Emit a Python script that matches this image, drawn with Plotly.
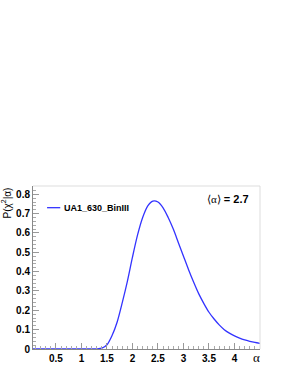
import plotly.graph_objects as go

alpha = [0.05, 0.2, 0.4, 0.6, 0.8, 1.0, 1.2, 1.3, 1.4, 1.5, 1.6, 1.7, 1.8, 1.9, 2.0,
         2.1, 2.2, 2.3, 2.4, 2.5, 2.6, 2.7, 2.8, 2.9, 3.0, 3.1, 3.2, 3.3, 3.4,
         3.5, 3.6, 3.7, 3.8, 3.9, 4.0, 4.1, 4.2, 4.3, 4.4, 4.5]
prob = [0.0, 0.0, 0.0, 0.0, 0.0, 0.0, 0.0, 0.0005, 0.004, 0.022, 0.07, 0.14, 0.24, 0.35, 0.475,
        0.59, 0.68, 0.74, 0.765, 0.76, 0.73, 0.68, 0.62, 0.55, 0.48, 0.41, 0.345, 0.285, 0.235,
        0.19, 0.155, 0.125, 0.10, 0.082, 0.068, 0.056, 0.047, 0.040, 0.034, 0.029]
series_name = "UA1_630_BinIII"
mean_alpha = 2.7
xticks = [0.5, 1, 1.5, 2, 2.5, 3, 3.5, 4]
xticklabels = ["0.5", "1", "1.5", "2", "2.5", "3", "3.5", "4"]
yticks = [0, 0.1, 0.2, 0.3, 0.4, 0.5, 0.6, 0.7, 0.8]
yticklabels = ["0", "0.1", "0.2", "0.3", "0.4", "0.5", "0.6", "0.7", "0.8"]

fig = go.Figure()
fig.add_trace(go.Scatter(x=alpha, y=prob, mode="lines", name=series_name,
                         line=dict(color="#3333ff", width=1.3, shape="spline", smoothing=0.8),
                         showlegend=False))

tickfont = dict(family="Liberation Sans, Arial, sans-serif", size=10, color="black", weight="bold")
axis_common = dict(showgrid=False, zeroline=False, ticks="inside", ticklen=6,
                   tickcolor="#999999", showline=True, linecolor="#888888", linewidth=1,
                   mirror=False, tickfont=tickfont)

fig.update_xaxes(range=[0.05, 4.5], tickmode="array", tickvals=xticks, ticktext=xticklabels,
                 minor=dict(dtick=0.1, ticklen=3, ticks="inside", tickcolor="#aaaaaa"),
                 **axis_common)
fig.update_yaxes(range=[0, 0.843], tickmode="array", tickvals=yticks, ticktext=yticklabels,
                 minor=dict(dtick=0.02, ticklen=3, ticks="inside", tickcolor="#aaaaaa"),
                 **axis_common)

# frame top and right
fig.add_shape(type="line", xref="paper", yref="paper", x0=0, x1=1, y0=1, y1=1,
              line=dict(color="#dddddd", width=1))
fig.add_shape(type="line", xref="paper", yref="paper", x0=1, x1=1, y0=0, y1=1,
              line=dict(color="#dddddd", width=1))

# legend
fig.add_shape(type="line", xref="paper", yref="paper", x0=0.062, x1=0.12, y0=0.867, y1=0.867,
              line=dict(color="#3333ff", width=1.3))
fig.add_annotation(xref="paper", yref="paper", x=0.128, y=0.867, xanchor="left", yanchor="middle",
                   text="<b>" + series_name + "</b>", showarrow=False,
                   font=dict(family="Liberation Sans, Arial, sans-serif", size=9, color="black"))

fig.add_annotation(xref="paper", yref="paper", x=0.96, y=0.92, xanchor="right", yanchor="middle",
                   text="<span style='font-family:Liberation Serif'>⟨α⟩</span><b> = %.1f</b>" % mean_alpha,
                   showarrow=False,
                   font=dict(family="Liberation Sans, Arial, sans-serif", size=11, color="black"))

# axis titles
fig.add_annotation(xref="paper", yref="paper", x=0.985, y=-0.05, xanchor="center", yanchor="middle",
                   text="α", showarrow=False,
                   font=dict(family="Liberation Serif, Times New Roman, serif", size=13, color="black"))
fig.add_annotation(xref="paper", yref="paper", x=-0.119, y=1.006, xanchor="center", yanchor="top",
                   text="P(χ<sup>2</sup>|α)", textangle=-90, showarrow=False,
                   font=dict(family="Liberation Sans, Arial, sans-serif", size=10, color="black"))

fig.update_layout(width=284, height=367, margin=dict(l=33, r=24, t=186, b=18, autoexpand=False),
                  paper_bgcolor="white", plot_bgcolor="white", showlegend=False)

fig.write_html("out.html", config={"displayModeBar": False},
               post_script="document.body.style.margin='0';")
